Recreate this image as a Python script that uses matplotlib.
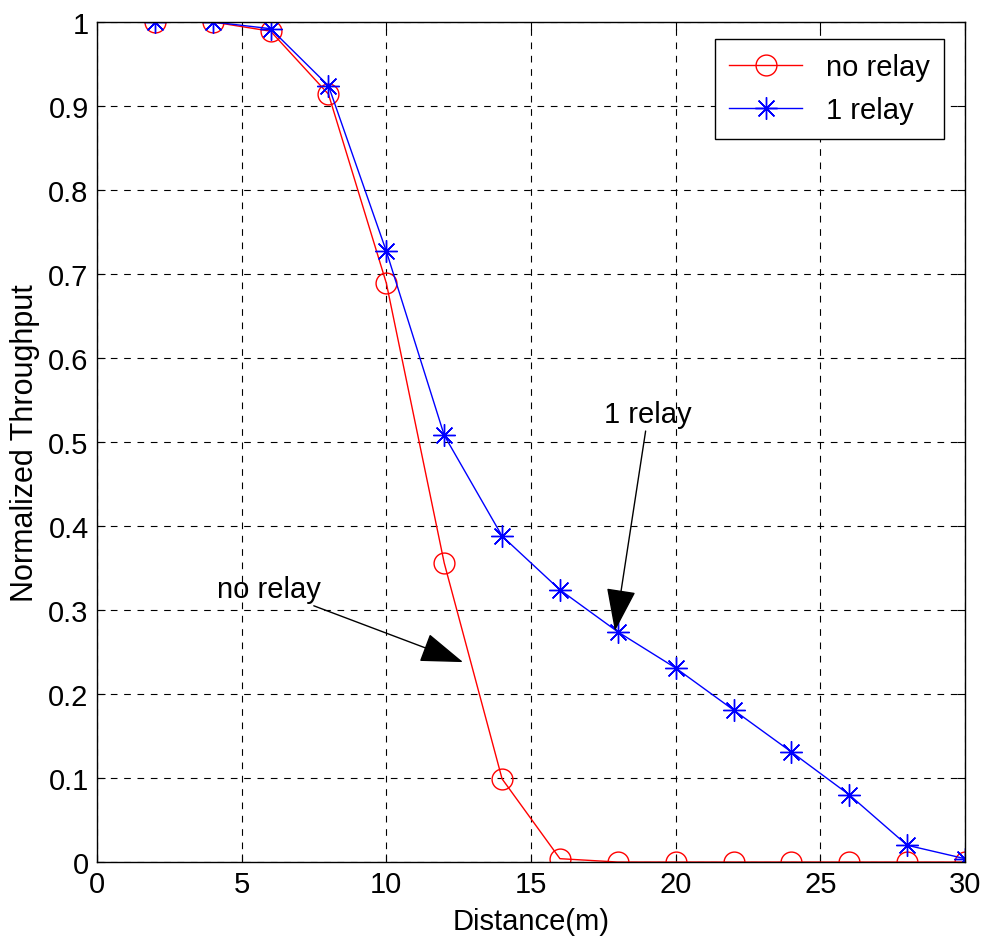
import matplotlib
matplotlib.use("Agg")
import matplotlib.pyplot as plt

plt.rcParams['font.family'] = ['Liberation Sans Narrow', 'Liberation Sans', 'DejaVu Sans']

distance = [2, 4, 6, 8, 10, 12, 14, 16, 18, 20, 22, 24, 26, 28, 30]
no_relay = [1.0, 1.0, 0.989, 0.914, 0.689, 0.356, 0.099, 0.004, 0.0, 0.0, 0.0, 0.0, 0.0, 0.0, 0.0]
one_relay = [1.0, 1.0, 0.992, 0.924, 0.727, 0.508, 0.388, 0.324, 0.274, 0.231, 0.181, 0.131, 0.080, 0.020, 0.004]

x_ticks = [0, 5, 10, 15, 20, 25, 30]
y_ticks = [0, 0.1, 0.2, 0.3, 0.4, 0.5, 0.6, 0.7, 0.8, 0.9, 1]
y_labels = ["0", "0.1", "0.2", "0.3", "0.4", "0.5", "0.6", "0.7", "0.8", "0.9", "1"]

fig = plt.figure(figsize=(9.82, 9.53), dpi=100)
ax = fig.add_axes([0.0988, 0.0944, 0.8839, 0.8815])

ax.plot(distance, no_relay, color="red", lw=1.0, marker="o", ms=15,
        mfc="none", mec="red", mew=1.0, label="no relay")
ax.plot(distance, one_relay, color="blue", lw=1.0, marker=(8, 2, 0), ms=16,
        mec="blue", mew=1.0, label="1 relay")

ax.set_xlim(0, 30)
ax.set_ylim(0, 1)
ax.set_xticks(x_ticks)
ax.set_yticks(y_ticks)
ax.set_yticklabels(y_labels)
ax.tick_params(direction="in", length=6, labelsize=21, top=True, right=True, pad=6)
ax.grid(True, color="black", linestyle=(0, (6, 6)), linewidth=0.8)
for s in ax.spines.values():
    s.set_linewidth(1.0)

ax.set_xlabel("Distance(m)", fontsize=21, labelpad=6)
ax.set_ylabel("Normalized Throughput", fontsize=22, labelpad=6)

leg = ax.legend(loc="upper right", fontsize=21, fancybox=False, framealpha=1,
                edgecolor="black", borderpad=0.5, handlelength=2.5,
                borderaxespad=0, bbox_to_anchor=(0.976, 0.98))
leg.get_frame().set_linewidth(1.0)

arrow = dict(arrowstyle="-|>,head_length=1.3,head_width=0.45", color="black",
             lw=1.0, shrinkA=0, shrinkB=0)
ax.annotate("no relay", xy=(12.65, 0.238), xytext=(7.75, 0.325),
            fontsize=21, ha="right", va="center", arrowprops=arrow)
ax.annotate("1 relay", xy=(17.9, 0.275), xytext=(19.05, 0.533),
            fontsize=21, ha="center", va="center", arrowprops=arrow)

fig.savefig("out.png", dpi=100)
